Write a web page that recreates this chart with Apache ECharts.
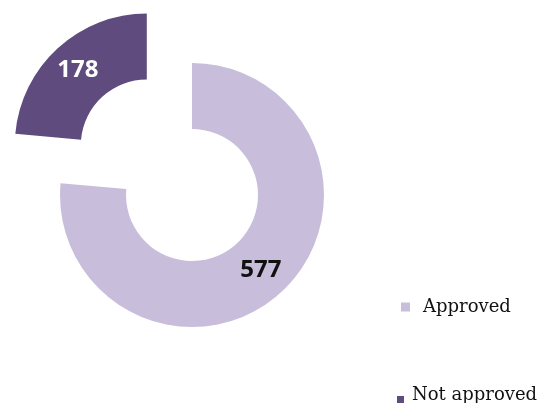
<!DOCTYPE html>
<html>
<head>
<meta charset="utf-8">
<title>Approval status</title>
<script src="https://cdn.jsdelivr.net/npm/echarts@6/dist/echarts.min.js"></script>
<style>
  html, body { margin: 0; padding: 0; background: #ffffff; }
  #chart { width: 550px; height: 403px; }
</style>
</head>
<body>
<div id="chart"></div>
<script>
// Approval counts
const categories = ['Approved', 'Not approved'];
const counts = [577, 178];
const sliceColors = ['#c8bedb', '#5f4b7d'];
const labelColors = ['#111111', '#ffffff'];

const chart = echarts.init(document.getElementById('chart'), null, { renderer: 'canvas' });

const pieData = categories.map((name, i) => ({
  name: name,
  value: counts[i],
  selected: name === 'Not approved',
  itemStyle: { color: sliceColors[i] },
  label: { color: labelColors[i] }
}));

const legendText = {
  fontFamily: 'DejaVu Serif',
  fontSize: 18,
  color: '#111111',
  lineHeight: 20
};

// Square marker sitting low in its icon box, so it lines up near the text baseline
const lowSquareIcon = 'path://M0,0 L7,0 M0,10 L7,10 L7,18 L0,18 Z';

chart.setOption({
  animation: false,
  backgroundColor: '#ffffff',
  legend: [
    {
      data: [categories[0]],
      orient: 'vertical',
      left: 396,
      top: 291,
      icon: 'rect',
      itemWidth: 9,
      itemHeight: 9,
      selectedMode: false,
      itemStyle: { borderWidth: 0 },
      textStyle: Object.assign({}, legendText, { padding: [0, 0, 2, 8] })
    },
    {
      data: [categories[1]],
      orient: 'vertical',
      left: 392,
      top: 380,
      icon: lowSquareIcon,
      itemWidth: 7,
      itemHeight: 18,
      selectedMode: false,
      itemStyle: { borderWidth: 0 },
      textStyle: Object.assign({}, legendText, { padding: [0, 0, 0, 3] })
    }
  ],
  series: [
    {
      type: 'pie',
      center: [192, 195],
      radius: [66, 132],
      startAngle: 90,
      clockwise: true,
      selectedMode: 'single',
      selectedOffset: 67,
      avoidLabelOverlap: false,
      emphasis: { disabled: true },
      label: {
        show: true,
        position: 'inside',
        formatter: '{c}',
        fontFamily: 'Noto Sans',
        fontWeight: 'bold',
        fontSize: 24
      },
      labelLine: { show: false },
      data: pieData
    }
  ]
});
</script>
</body>
</html>
